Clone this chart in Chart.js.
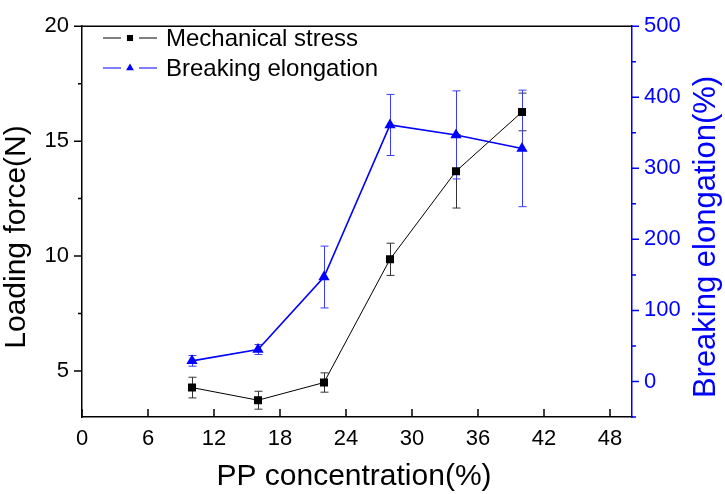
<!DOCTYPE html>
<html>
<head>
<meta charset="utf-8">
<script src="https://cdn.jsdelivr.net/npm/chart.js@4.4.1/dist/chart.umd.min.js"></script>
<style>
    html, body { margin: 0; padding: 0; background: #fff; }
    #wrap { width: 725px; height: 494px; }
</style>
</head>
<body>
<div id="wrap"><canvas id="chartCanvas" width="725" height="494"></canvas></div>
<script>
// data
const ppConc = [10, 16, 22, 28, 34, 40];
const loadForce = [4.28, 3.73, 4.5, 9.86, 13.69, 16.27];
const loadForceErr = [0.45, 0.39, 0.42, 0.7, 1.6, 0.82];
const elongation = [29, 45, 147, 361, 347, 328];
const elongationErr = [7.5, 7, 43.5, 43, 62, 82];

// axis ticks
const xTicks = [0, 6, 12, 18, 24, 30, 36, 42, 48];
const forceTicks = [5, 10, 15, 20];
const forceMinor = [7.5, 12.5, 17.5];
const elongTicks = [0, 100, 200, 300, 400, 500];
const elongMinor = [-50, 50, 150, 250, 350, 450];

const FONT = '"Liberation Sans", Arial, Helvetica, sans-serif';
const BLUE = "#0000ff";

function toPoints(ys) {
    return ppConc.map((x, i) => ({ x: x, y: ys[i] }));
}

// error bars, tick marks, titles, legend
const decorPlugin = {
    id: "decor",
    beforeDatasetsDraw(chart) {
        const ctx = chart.ctx;
        chart.data.datasets.forEach((ds, i) => {
            const meta = chart.getDatasetMeta(i);
            const yScale = chart.scales[ds.yAxisID];
            ctx.save();
            ctx.strokeStyle = ds.errorColor;
            ctx.lineWidth = 1;
            meta.data.forEach((pt, j) => {
                const v = ds.data[j].y;
                const e = ds.errors[j];
                const top = yScale.getPixelForValue(v + e);
                const bot = yScale.getPixelForValue(v - e);
                const x = Math.round(pt.x) + 0.5;
                ctx.beginPath();
                ctx.moveTo(x, top); ctx.lineTo(x, bot);
                ctx.moveTo(x - 4, top); ctx.lineTo(x + 4, top);
                ctx.moveTo(x - 4, bot); ctx.lineTo(x + 4, bot);
                ctx.stroke();
            });
            ctx.restore();
        });
    },
    afterDraw(chart) {
        const ctx = chart.ctx;
        const area = chart.chartArea;
        const xs = chart.scales.x;
        const yl = chart.scales.yForce;
        const yr = chart.scales.yElong;

        ctx.save();
        ctx.lineWidth = 1.5;

        // top frame line
        ctx.strokeStyle = "#000";
        ctx.beginPath();
        ctx.moveTo(area.left, area.top);
        ctx.lineTo(area.right, area.top);
        ctx.stroke();

        // x ticks point inward
        ctx.beginPath();
        xTicks.forEach(v => {
            const px = xs.getPixelForValue(v);
            ctx.moveTo(px, area.bottom);
            ctx.lineTo(px, area.bottom - 8);
        });
        ctx.stroke();

        // left ticks outward
        ctx.beginPath();
        forceTicks.forEach(v => {
            const py = yl.getPixelForValue(v);
            ctx.moveTo(area.left - 8, py);
            ctx.lineTo(area.left, py);
        });
        forceMinor.forEach(v => {
            const py = yl.getPixelForValue(v);
            ctx.moveTo(area.left - 4, py);
            ctx.lineTo(area.left, py);
        });
        ctx.stroke();

        // right ticks outward, blue
        ctx.strokeStyle = BLUE;
        ctx.beginPath();
        elongTicks.forEach(v => {
            const py = yr.getPixelForValue(v);
            ctx.moveTo(area.right, py);
            ctx.lineTo(area.right + 7, py);
        });
        elongMinor.forEach(v => {
            const py = yr.getPixelForValue(v);
            ctx.moveTo(area.right, py);
            ctx.lineTo(area.right + 4, py);
        });
        ctx.stroke();

        // axis titles
        const midY = 237;
        ctx.font = "30px " + FONT;
        ctx.textAlign = "center";
        ctx.textBaseline = "alphabetic";
        ctx.fillStyle = "#000";
        ctx.fillText("PP concentration(%)", (area.left + area.right) / 2 - 3, 485);

        ctx.save();
        ctx.translate(25, midY);
        ctx.rotate(-Math.PI / 2);
        ctx.fillText("Loading force(N)", 0, 0);
        ctx.restore();

        ctx.save();
        ctx.font = "31px " + FONT;
        ctx.fillStyle = BLUE;
        ctx.translate(715, midY);
        ctx.rotate(-Math.PI / 2);
        ctx.fillText("Breaking elongation(%)", 0, 0);
        ctx.restore();

        // legend inside the plot
        ctx.font = "24px " + FONT;
        ctx.textAlign = "left";
        chart.data.datasets.forEach((ds, i) => {
            const cy = 38 + i * 30;
            ctx.strokeStyle = ds.borderColor;
            ctx.lineWidth = 1.2;
            ctx.beginPath();
            ctx.moveTo(103, cy); ctx.lineTo(121, cy);
            ctx.moveTo(139, cy); ctx.lineTo(157, cy);
            ctx.stroke();
            ctx.fillStyle = ds.pointBackgroundColor;
            Chart.helpers.drawPoint(ctx, {
                pointStyle: ds.pointStyle,
                radius: ds.pointStyle === "triangle" ? 4.5 : 4.3,
                borderWidth: 0,
                rotation: 0
            }, 130, cy);
            ctx.fillStyle = "#000";
            ctx.fillText(ds.label, 166, cy + 8);
        });

        ctx.restore();
    }
};

const tickFont = { family: FONT, size: 22 };

new Chart(document.getElementById("chartCanvas").getContext("2d"), {
    type: "line",
    data: {
        datasets: [
            {
                label: "Mechanical stress",
                data: toPoints(loadForce),
                errors: loadForceErr,
                errorColor: "#333",
                yAxisID: "yForce",
                borderColor: "#000",
                borderWidth: 1,
                pointStyle: "rect",
                pointRadius: 5.7,
                pointBackgroundColor: "#000",
                pointBorderColor: "#000",
                pointBorderWidth: 0,
                tension: 0
            },
            {
                label: "Breaking elongation",
                data: toPoints(elongation),
                errors: elongationErr,
                errorColor: "#3b3bff",
                yAxisID: "yElong",
                borderColor: BLUE,
                borderWidth: 1.6,
                pointStyle: "triangle",
                pointRadius: 6.5,
                pointBackgroundColor: BLUE,
                pointBorderColor: BLUE,
                pointBorderWidth: 0,
                tension: 0
            }
        ]
    },
    options: {
        responsive: false,
        animation: false,
        devicePixelRatio: 1,
        layout: { padding: { top: 13, left: 0, right: 0, bottom: 0 } },
        plugins: {
            legend: { display: false },
            tooltip: { enabled: false }
        },
        scales: {
            x: {
                type: "linear",
                min: 0,
                max: 50,
                afterBuildTicks: s => { s.ticks = xTicks.map(v => ({ value: v })); },
                afterFit: s => { s.height = 77; },
                grid: { display: false, drawTicks: false },
                border: { color: "#000", width: 1.5 },
                ticks: { padding: 9, color: "#000", font: tickFont, maxRotation: 0, autoSkip: false }
            },
            yForce: {
                type: "linear",
                position: "left",
                min: 3,
                max: 20,
                afterBuildTicks: s => { s.ticks = forceTicks.map(v => ({ value: v })); },
                afterFit: s => { s.width = 82; },
                grid: { display: false, drawTicks: false },
                border: { color: "#000", width: 1.5 },
                ticks: { padding: 13, color: "#000", font: tickFont }
            },
            yElong: {
                type: "linear",
                position: "right",
                min: -50,
                max: 500,
                afterBuildTicks: s => { s.ticks = elongTicks.map(v => ({ value: v })); },
                afterFit: s => { s.width = 93; },
                grid: { display: false, drawTicks: false },
                border: { color: BLUE, width: 1.5 },
                ticks: { padding: 12, color: BLUE, font: tickFont }
            }
        }
    },
    plugins: [decorPlugin]
});
</script>
</body>
</html>
